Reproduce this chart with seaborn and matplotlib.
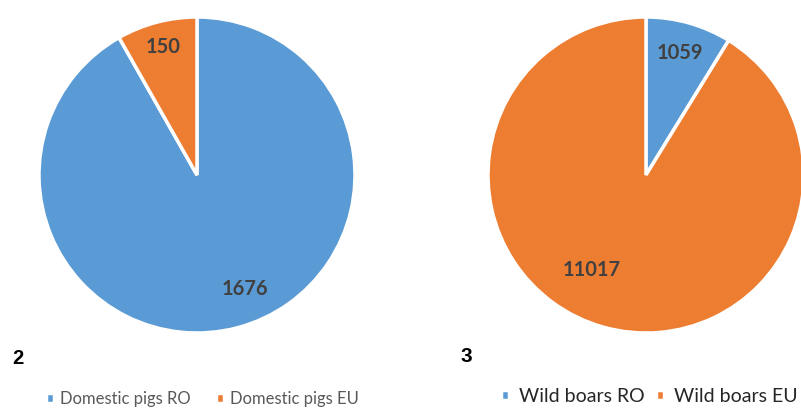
import matplotlib
matplotlib.use("Agg")
import matplotlib.pyplot as plt
import seaborn as sns
import numpy as np

sns.set_theme(style="white")
plt.rcParams['font.family'] = ['Lato', 'DejaVu Sans']

left_labels = ["Domestic pigs RO", "Domestic pigs EU"]
left_values = [1676, 150]
right_labels = ["Wild boars RO", "Wild boars EU"]
right_values = [1059, 11017]
panel_ids = ["2", "3"]

palette = sns.color_palette(["#5B9BD5", "#ED7D31"])

W, H = 801, 408
fig = plt.figure(figsize=(W / 100, H / 100), dpi=100)

def px_axes(x0, y0, x1, y1):
    return fig.add_axes([x0 / W, 1 - y1 / H, (x1 - x0) / W, (y1 - y0) / H])

def draw_pie(ax, values, label_r):
    wedges, _ = ax.pie(values, colors=palette, startangle=90, counterclock=False,
                       radius=1, wedgeprops=dict(edgecolor="white", linewidth=2.5))
    for w, v, r in zip(wedges, values, label_r):
        ang = np.deg2rad((w.theta1 + w.theta2) / 2 + r[1])
        ax.text(r[0] * np.cos(ang), r[0] * np.sin(ang),
                f"{v}", ha="center", va="center", fontsize=14.5, fontweight="bold",
                color="#404040")
    ax.set_xlim(-1, 1)
    ax.set_ylim(-1, 1)
    ax.set_aspect("equal")
    ax.axis("off")
    return wedges

ax1 = px_axes(39, 17, 355, 333)
w1 = draw_pie(ax1, left_values, [(0.78, 8), (0.84, 0)])
ax2 = px_axes(488, 17, 804, 333)
w2 = draw_pie(ax2, right_values, [(0.8, 0), (0.69, -14)])

fig.text(12 / W, 1 - 359 / H, panel_ids[0], fontsize=14.5, fontweight="bold",
         family="Liberation Sans", color="black", va="center", ha="left")
fig.text(461 / W, 1 - 357 / H, panel_ids[1], fontsize=15, fontweight="bold",
         family="Liberation Sans", color="black", va="center", ha="left")

fig.legend(w1, left_labels, loc="center left", bbox_to_anchor=(46 / W, 1 - 399 / H),
           ncol=2, frameon=False, fontsize=12.0, handlelength=0.5, handleheight=0.5,
           handletextpad=0.35, columnspacing=1.5, labelcolor="#595959",
           borderpad=0, borderaxespad=0)
fig.legend(w2, right_labels, loc="center left", bbox_to_anchor=(501 / W, 1 - 396 / H),
           ncol=2, frameon=False, fontsize=14.0, handlelength=0.42, handleheight=0.42,
           handletextpad=0.5, columnspacing=0.6, labelcolor="#262626",
           borderpad=0, borderaxespad=0)

fig.savefig("out.png", dpi=100)
